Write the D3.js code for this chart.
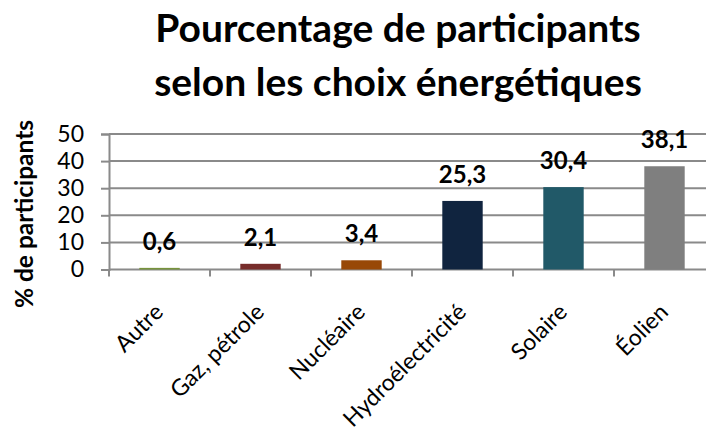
<!DOCTYPE html>
<html><head><meta charset="utf-8">
<script src="https://cdn.jsdelivr.net/npm/d3@7"></script>
<style>
html,body{margin:0;padding:0;background:#fff;}
svg{display:block;}
text{font-family:Lato,"Open Sans",sans-serif;}
</style></head>
<body>
<svg id="chart" width="706" height="436"></svg>
<script>
const categories = ["Autre","Gaz, pétrole","Nucléaire","Hydroélectricité","Solaire","Éolien"];
const values = [0.6, 2.1, 3.4, 25.3, 30.4, 38.1];
const valueLabels = ["0,6","2,1","3,4","25,3","30,4","38,1"];
const barColors = ["#77933C","#772C2A","#984807","#10243F","#215968","#7F7F7F"];
const yTicks = [0,10,20,30,40,50];
const titleLines = ["Pourcentage de participants","selon les choix énergétiques"];
const yTitle = "% de participants";

const svg = d3.select("#chart");
const plotLeft = 109, plotRight = 715, plotTop = 134, plotBottom = 269.5;

const x = d3.scaleBand().domain(categories).range([plotLeft, plotRight]).paddingInner(0.6).paddingOuter(0.3);
const y = d3.scaleLinear().domain([0, 50]).range([plotBottom, plotTop]);

// gridlines
svg.append("g").selectAll("line").data(yTicks.filter(d => d > 0)).join("line")
  .attr("x1", plotLeft).attr("x2", plotRight)
  .attr("y1", d => y(d)).attr("y2", d => y(d))
  .attr("stroke", "#8a8a8a").attr("stroke-width", 2);

// y axis
const yAxis = svg.append("g").attr("transform", `translate(${plotLeft},0)`)
  .call(d3.axisLeft(y).tickValues(yTicks).tickSize(8).tickPadding(17).tickFormat(d3.format("d")));
yAxis.select(".domain").attr("stroke", "#8a8a8a").attr("stroke-width", 2);
yAxis.selectAll(".tick line").attr("stroke", "#8a8a8a").attr("stroke-width", 2);
yAxis.selectAll(".tick text").attr("font-size", 23).attr("fill", "#000")
  .style("font-family", "Lato, sans-serif");

// x axis line and ticks at band boundaries
svg.append("line").attr("x1", plotLeft).attr("x2", plotRight).attr("y1", plotBottom).attr("y2", plotBottom)
  .attr("stroke", "#8a8a8a").attr("stroke-width", 2);
svg.append("g").selectAll("line").data(categories).join("line")
  .attr("x1", d => x(d) - x.step() * x.paddingInner() / 2)
  .attr("x2", d => x(d) - x.step() * x.paddingInner() / 2)
  .attr("y1", plotBottom).attr("y2", plotBottom + 7)
  .attr("stroke", "#8a8a8a").attr("stroke-width", 2);

// bars
svg.append("g").selectAll("rect").data(values).join("rect")
  .attr("x", (d, i) => x(categories[i]))
  .attr("width", x.bandwidth())
  .attr("y", d => y(d))
  .attr("height", d => y(0) - y(d))
  .attr("fill", (d, i) => barColors[i]);

// value labels
svg.append("g").selectAll("text").data(values).join("text")
  .attr("x", (d, i) => x(categories[i]) + x.bandwidth() / 2)
  .attr("y", d => y(d) - 18)
  .attr("text-anchor", "middle")
  .attr("font-size", 24).attr("font-weight", "bold").attr("fill", "#000")
  .text((d, i) => valueLabels[i]);

// category labels
svg.append("g").selectAll("text").data(categories).join("text")
  .attr("transform", d => `translate(${x(d) + x.bandwidth() / 2 + 5},${plotBottom + 44}) rotate(-45)`)
  .attr("text-anchor", "end")
  .attr("font-size", 23).attr("fill", "#000")
  .text(d => d);

// y title
svg.append("text")
  .attr("transform", "translate(33,214) rotate(-90)")
  .attr("text-anchor", "middle")
  .attr("font-size", 24.5).attr("font-weight", "bold").attr("fill", "#000")
  .text(yTitle);

// title
svg.append("g").selectAll("text").data(titleLines).join("text")
  .attr("x", 398).attr("y", (d, i) => 42 + i * 54)
  .attr("text-anchor", "middle")
  .attr("font-size", 39).attr("font-weight", "bold").attr("fill", "#000")
  .text(d => d);
</script>
</body></html>
